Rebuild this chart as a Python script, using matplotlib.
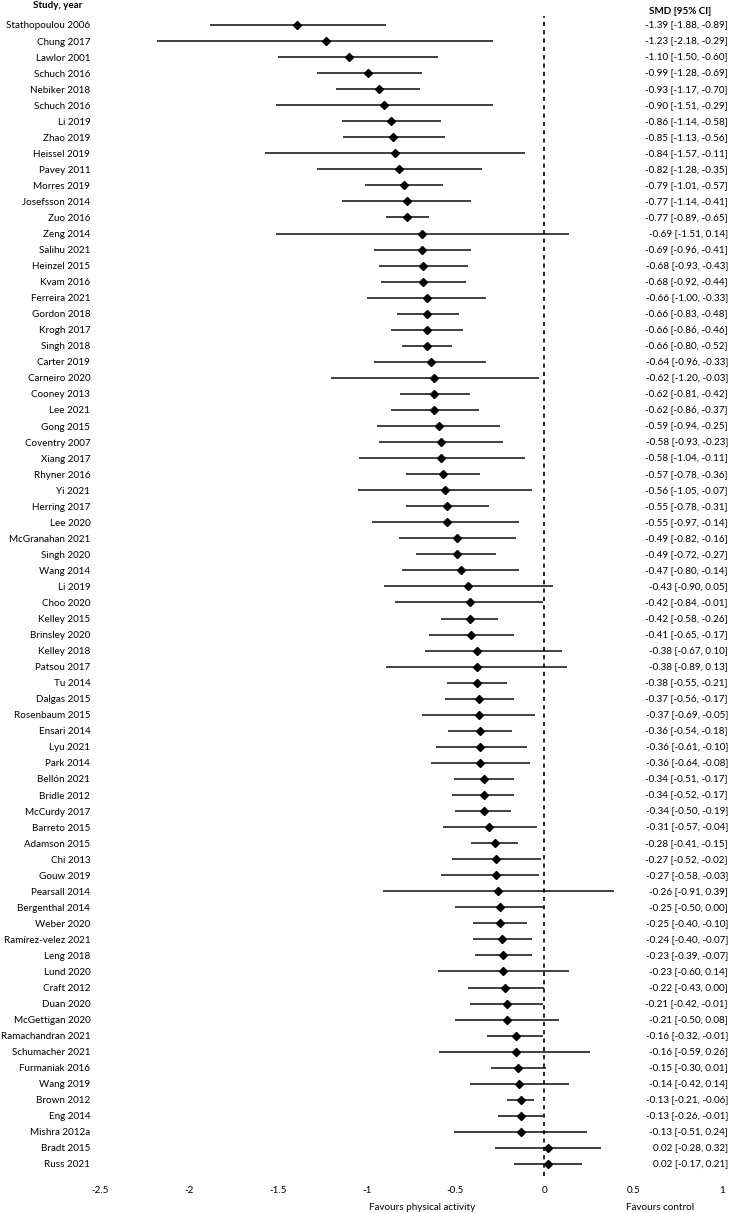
import matplotlib.pyplot as plt

studies = ["Stathopoulou 2006", "Chung 2017", "Lawlor 2001", "Schuch 2016", "Nebiker 2018",
           "Schuch 2016", "Li 2019", "Zhao 2019", "Heissel 2019", "Pavey 2011",
           "Morres 2019", "Josefsson 2014", "Zuo 2016", "Zeng 2014", "Salihu 2021",
           "Heinzel 2015", "Kvam 2016", "Ferreira 2021", "Gordon 2018", "Krogh 2017",
           "Singh 2018", "Carter 2019", "Carneiro 2020", "Cooney 2013", "Lee 2021",
           "Gong 2015", "Coventry 2007", "Xiang 2017", "Rhyner 2016", "Yi 2021",
           "Herring 2017", "Lee 2020", "McGranahan 2021", "Singh 2020", "Wang 2014",
           "Li 2019", "Choo 2020", "Kelley 2015", "Brinsley 2020", "Kelley 2018",
           "Patsou 2017", "Tu 2014", "Dalgas 2015", "Rosenbaum 2015", "Ensari 2014",
           "Lyu 2021", "Park 2014", "Bellón 2021", "Bridle 2012", "McCurdy 2017",
           "Barreto 2015", "Adamson 2015", "Chi 2013", "Gouw 2019", "Pearsall 2014",
           "Bergenthal 2014", "Weber 2020", "Ramírez-velez 2021", "Leng 2018", "Lund 2020",
           "Craft 2012", "Duan 2020", "McGettigan 2020", "Ramachandran 2021", "Schumacher 2021",
           "Furmaniak 2016", "Wang 2019", "Brown 2012", "Eng 2014", "Mishra 2012a",
           "Bradt 2015", "Russ 2021"]

smd = [-1.39, -1.23, -1.10, -0.99, -0.93, -0.90, -0.86, -0.85, -0.84, -0.82,
       -0.79, -0.77, -0.77, -0.69, -0.69, -0.68, -0.68, -0.66, -0.66, -0.66,
       -0.66, -0.64, -0.62, -0.62, -0.62, -0.59, -0.58, -0.58, -0.57, -0.56,
       -0.55, -0.55, -0.49, -0.49, -0.47, -0.43, -0.42, -0.42, -0.41, -0.38,
       -0.38, -0.38, -0.37, -0.37, -0.36, -0.36, -0.36, -0.34, -0.34, -0.34,
       -0.31, -0.28, -0.27, -0.27, -0.26, -0.25, -0.25, -0.24, -0.23, -0.23,
       -0.22, -0.21, -0.21, -0.16, -0.16, -0.15, -0.14, -0.13, -0.13, -0.13,
       0.02, 0.02]

ci_low = [-1.88, -2.18, -1.50, -1.28, -1.17, -1.51, -1.14, -1.13, -1.57, -1.28,
          -1.01, -1.14, -0.89, -1.51, -0.96, -0.93, -0.92, -1.00, -0.83, -0.86,
          -0.80, -0.96, -1.20, -0.81, -0.86, -0.94, -0.93, -1.04, -0.78, -1.05,
          -0.78, -0.97, -0.82, -0.72, -0.80, -0.90, -0.84, -0.58, -0.65, -0.67,
          -0.89, -0.55, -0.56, -0.69, -0.54, -0.61, -0.64, -0.51, -0.52, -0.50,
          -0.57, -0.41, -0.52, -0.58, -0.91, -0.50, -0.40, -0.40, -0.39, -0.60,
          -0.43, -0.42, -0.50, -0.32, -0.59, -0.30, -0.42, -0.21, -0.26, -0.51,
          -0.28, -0.17]

ci_high = [-0.89, -0.29, -0.60, -0.69, -0.70, -0.29, -0.58, -0.56, -0.11, -0.35,
           -0.57, -0.41, -0.65, 0.14, -0.41, -0.43, -0.44, -0.33, -0.48, -0.46,
           -0.52, -0.33, -0.03, -0.42, -0.37, -0.25, -0.23, -0.11, -0.36, -0.07,
           -0.31, -0.14, -0.16, -0.27, -0.14, 0.05, -0.01, -0.26, -0.17, 0.10,
           0.13, -0.21, -0.17, -0.05, -0.18, -0.10, -0.08, -0.17, -0.17, -0.19,
           -0.04, -0.15, -0.02, -0.03, 0.39, 0.00, -0.10, -0.07, -0.07, 0.14,
           0.00, -0.01, 0.08, -0.01, 0.26, 0.01, 0.14, -0.06, -0.01, 0.24,
           0.32, 0.21]

xticks = [-2.5, -2, -1.5, -1, -0.5, 0, 0.5, 1]
xtick_labels = ["-2.5", "-2", "-1.5", "-1", "-0.5", "0", "0.5", "1"]

plt.rcParams['font.family'] = ['Lato', 'DejaVu Sans']
fs = 7.1

fig = plt.figure(figsize=(7.3, 12.13), dpi=100)
ax = fig.add_axes([100 / 730, 1 - 1176 / 1213, 622 / 730, 1160 / 1213])

rows = list(range(len(studies)))

# CI lines and point estimates
ax.hlines(rows, ci_low, ci_high, color='#303030', lw=1.3)
ax.plot(smd, rows, 'D', color='black', ms=4.5)

# line of no effect
ax.axvline(0, color='black', lw=1.2, ls=(0, (2.5, 2.5)))

ax.set_xlim(-2.5, 1)
ax.set_ylim(71.75, -0.56)

ax.set_yticks(rows)
ax.set_yticklabels(studies, fontsize=fs)
ax.set_xticks(xticks)
ax.set_xticklabels(xtick_labels, fontsize=fs)
ax.tick_params(axis='y', length=0, pad=7)
ax.tick_params(axis='x', length=0, pad=7)
for s in ax.spines.values():
    s.set_visible(False)

# right column with SMD [95% CI]
tr = ax.get_yaxis_transform()
for i in rows:
    txt = f"{smd[i]:.2f} [{ci_low[i]:.2f}, {ci_high[i]:.2f}]"
    ax.text(1.0096, i, txt, transform=tr, ha='right', va='center', fontsize=fs, clip_on=False)

# headers
fig.text(58 / 730, 1 - 6 / 1213, "Study, year", ha='center', va='center', fontsize=fs, fontweight='bold')
fig.text(680 / 730, 1 - 11 / 1213, "SMD [95% CI]", ha='center', va='center', fontsize=fs, fontweight='bold')

# direction labels
xtr = ax.get_xaxis_transform()
ax.text(-0.69, -0.027, "Favours physical activity", transform=xtr, ha='center', va='center', fontsize=fs)
ax.text(0.65, -0.027, "Favours control", transform=xtr, ha='center', va='center', fontsize=fs)

plt.savefig("out.png", dpi=100)
